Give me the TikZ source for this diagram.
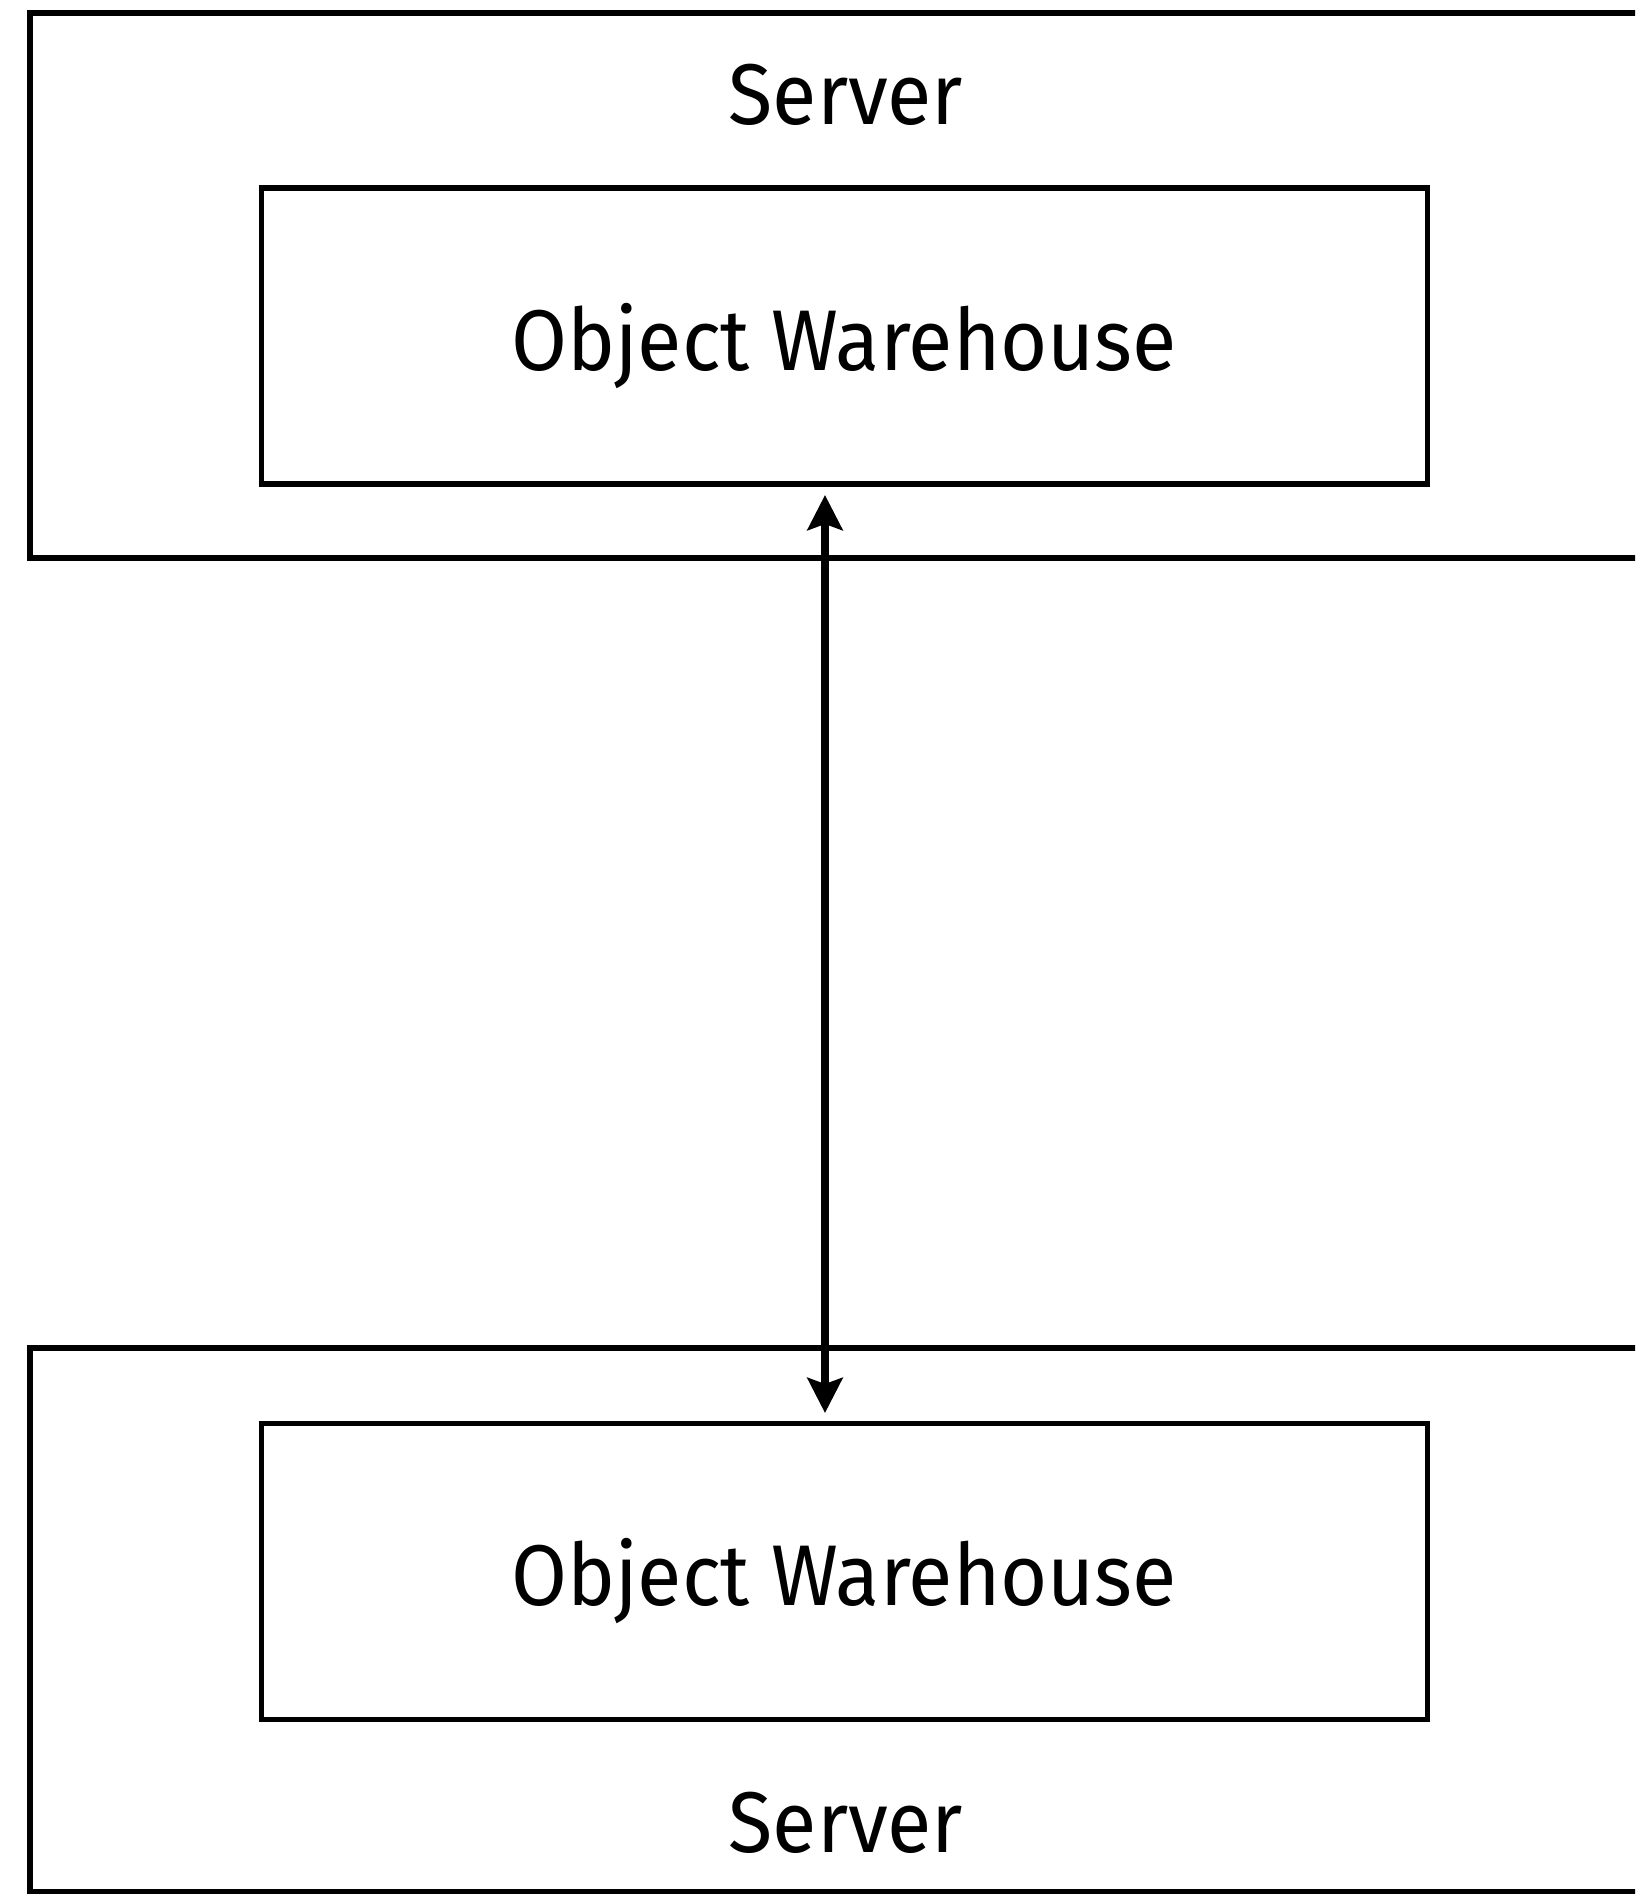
\documentclass[tikz,border=0pt]{standalone}
\usepackage{fontspec}
\IfFontExistsTF{Fira Sans Book}{\setmainfont{Fira Sans Book}[FakeStretch=0.94]}{\setmainfont{Fira Sans}[FakeStretch=0.94]}
\usetikzlibrary{arrows.meta}
\tikzset{
  serverbox/.style={draw=black, line width=0.055cm},
  whbox/.style={draw=black, line width=0.055cm, minimum width=11.65cm, minimum height=2.96cm, inner sep=0pt},
  lbl/.style={font=\fontsize{24.5}{28}\selectfont, inner sep=0pt, anchor=base},
  link/.style={line width=0.085cm, {Stealth[length=0.35cm,width=0.35cm,inset=0.06cm]}-{Stealth[length=0.35cm,width=0.35cm,inset=0.06cm]}}
}
\begin{document}
\begin{tikzpicture}[x=0.01cm,y=-0.01cm]
\useasboundingbox (0,0) rectangle (1635,1894);
\clip (0,0) rectangle (1635,1894);
% outer server boxes
\draw[serverbox] (30,13) rectangle (1720,558);
\draw[serverbox] (30,1348) rectangle (1720,1892);
% labels
\node[lbl] (s1) at (846,125) {Server};
\node[lbl] (s2) at (846,1852) {Server};
% object warehouses
\node[whbox] (w1) at (844.5,336) {};
\node[whbox] (w2) at (844.5,1571.5) {};
\node[lbl] (t1) at (844,370) {Object Warehouse};
\node[lbl] (t2) at (844,1605) {Object Warehouse};
% connector
\coordinate (a1) at (825,495);
\coordinate (a2) at (825,1413);
\draw[link] (a1) -- (a2);
\end{tikzpicture}
\end{document}
